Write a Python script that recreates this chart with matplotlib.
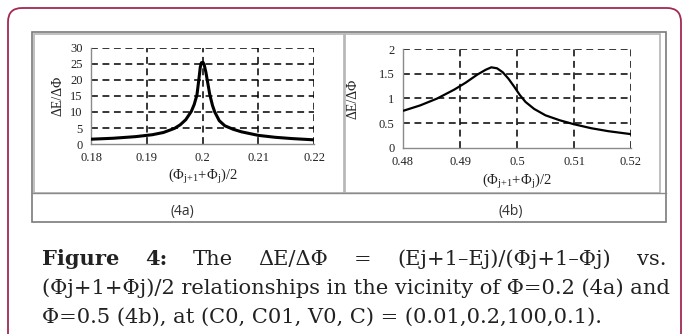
import matplotlib
matplotlib.use("Agg")
import matplotlib.pyplot as plt
from matplotlib.patches import FancyBboxPatch, Rectangle

W, H = 683, 334

# (4a) curve
xa = [0.180, 0.184, 0.188, 0.191, 0.193, 0.195, 0.196, 0.197, 0.198, 0.1985,
      0.199, 0.1993, 0.1996, 0.1998, 0.2001, 0.2003, 0.2006, 0.2009, 0.2013,
      0.2018, 0.2022, 0.203, 0.204, 0.2055, 0.207, 0.210, 0.213, 0.216, 0.220]
ya = [1.5, 1.8, 2.3, 2.9, 3.6, 4.9, 6.0, 7.6, 10.2, 12.3,
      15.3, 19.5, 24.0, 25.4, 25.5, 24.8, 22.5, 19.5, 15.5,
      12.0, 10.0, 7.3, 5.7, 4.6, 3.8, 2.7, 2.1, 1.7, 1.3]
xticks_a = [0.18, 0.19, 0.2, 0.21, 0.22]
xlabels_a = ["0.18", "0.19", "0.2", "0.21", "0.22"]
yticks_a = [0, 5, 10, 15, 20, 25, 30]

# (4b) curve
xb = [0.480, 0.483, 0.486, 0.489, 0.491, 0.493, 0.4945, 0.4955, 0.4965, 0.4975,
      0.4985, 0.4995, 0.5005, 0.5015, 0.503, 0.505, 0.5075, 0.510, 0.513,
      0.516, 0.520]
yb = [0.75, 0.86, 1.00, 1.18, 1.32, 1.48, 1.58, 1.63, 1.61, 1.53,
      1.40, 1.24, 1.07, 0.93, 0.79, 0.66, 0.56, 0.48, 0.40,
      0.34, 0.28]
xticks_b = [0.48, 0.49, 0.5, 0.51, 0.52]
xlabels_b = ["0.48", "0.49", "0.5", "0.51", "0.52"]
yticks_b = [0, 0.5, 1, 1.5, 2]
ylabels_b = ["0", "0.5", "1", "1.5", "2"]

caption_l1 = ["The", "ΔE/ΔΦ", "=", "(Ej+1–Ej)/(Φj+1–Φj)", "vs."]
caption_l2 = "(Φj+1+Φj)/2 relationships in the vicinity of Φ=0.2 (4a) and"
caption_l3 = "Φ=0.5 (4b), at (C0, C01, V0, C) = (0.01,0.2,100,0.1)."

serif = "Liberation Serif"
plt.rcParams["mathtext.fontset"] = "custom"
plt.rcParams["mathtext.rm"] = serif


def px(x0, y0, x1, y1):
    return [x0 / W, 1 - y1 / H, (x1 - x0) / W, (y1 - y0) / H]


fig = plt.figure(figsize=(W / 100, H / 100), dpi=100)
bg = fig.add_axes([0, 0, 1, 1])
bg.set_xlim(0, W)
bg.set_ylim(H, 0)
bg.axis("off")

# card border (bottom edge runs off the picture)
bg.add_patch(FancyBboxPatch((8, 8), 673, 345, boxstyle="round,pad=0,rounding_size=14",
                            fill=False, ec="#a12a52", lw=1.3, clip_on=False))
# figure frame
bg.add_patch(Rectangle((32, 32), 634, 190, fill=False, ec="#7a7a7a", lw=1.2))
bg.add_patch(Rectangle((34, 34), 310, 159, fill=False, ec="#b5b5b5", lw=1.2))
bg.add_patch(Rectangle((345, 34), 315, 159, fill=False, ec="#b5b5b5", lw=1.2))
bg.plot([32, 666], [193, 193], color="#8a8a8a", lw=1.0)
bg.text(182, 211, "(4a)", ha="center", va="center", fontsize=10,
        family="Open Sans", color="#333333")
bg.text(511, 211, "(4b)", ha="center", va="center", fontsize=10,
        family="Open Sans", color="#333333")


def panel(rect, x, y, xt, xl, yt, yl, lw, ylx):
    ax = fig.add_axes(px(*rect))
    ax.plot(x, y, color="black", lw=lw, zorder=3, solid_capstyle="butt")
    ax.set_xlim(xt[0], xt[-1])
    ax.set_ylim(yt[0], yt[-1])
    ax.set_xticks(xt)
    ax.set_xticklabels(xl)
    ax.set_yticks(yt)
    ax.set_yticklabels(yl)
    for v in yt[1:]:
        ax.axhline(v, color="black", lw=1.1, ls=(0, (4.5, 3)), zorder=1)
    for v in xt[1:]:
        ax.axvline(v, color="black", lw=1.1, ls=(0, (4.5, 3)), zorder=1)
    ax.spines["top"].set_visible(False)
    ax.spines["right"].set_visible(False)
    for s in ("left", "bottom"):
        ax.spines[s].set_color("#8a8a8a")
        ax.spines[s].set_linewidth(1.0)
    ax.tick_params(length=0, pad=6, labelsize=9, labelcolor="#222222")
    for t in ax.get_xticklabels() + ax.get_yticklabels():
        t.set_family(serif)
    ax.set_ylabel("ΔE/ΔΦ", family=serif, fontsize=10, color="#222222")
    ax.yaxis.set_label_coords(ylx, 0.5)
    ax.set_xlabel("(Φ$_{\\mathrm{j{+}1}}$+Φ$_{\\mathrm{j}}$)/2", family=serif,
                  fontsize=10.5, color="#222222")
    ax.xaxis.set_label_coords(0.5, -0.34)
    ax.xaxis.label.set_va("center")
    ax.patch.set_alpha(0)
    return ax


panel((91, 48, 314, 144), xa, ya, xticks_a, xlabels_a, yticks_a,
      [str(v) for v in yticks_a], 2.2, -0.12)
panel((403, 49, 631, 148), xb, yb, xticks_b, xlabels_b, yticks_b,
      ylabels_b, 1.6, -0.19)

# caption
cap_font = "DejaVu Serif"
left, right = 42, 666
fig.canvas.draw()
r = fig.canvas.get_renderer()

# size the caption so that line 2 runs the full width, as in the reference
probe = bg.text(0, 0, caption_l2, fontsize=12, family=cap_font)
cap_size = 12 * (right - left) / probe.get_window_extent(r).width
probe.remove()

words = [("Figure", "bold"), ("4:", "bold")] + [(w, "normal") for w in caption_l1]
objs = []
for w, wt in words:
    t = bg.text(0, 265, w, fontsize=cap_size, family=cap_font, weight=wt,
                va="baseline", ha="left", color="#222222")
    objs.append(t)
widths = [t.get_window_extent(r).width for t in objs]
gap = (right - left - sum(widths)) / (len(objs) - 1)
xpos = left
for t, wd in zip(objs, widths):
    t.set_x(xpos)
    xpos += wd + gap

bg.text(left, 294, caption_l2, fontsize=cap_size, family=cap_font,
        va="baseline", ha="left", color="#222222")
bg.text(left, 323, caption_l3, fontsize=cap_size, family=cap_font,
        va="baseline", ha="left", color="#222222")

fig.savefig("out.png", dpi=100)
